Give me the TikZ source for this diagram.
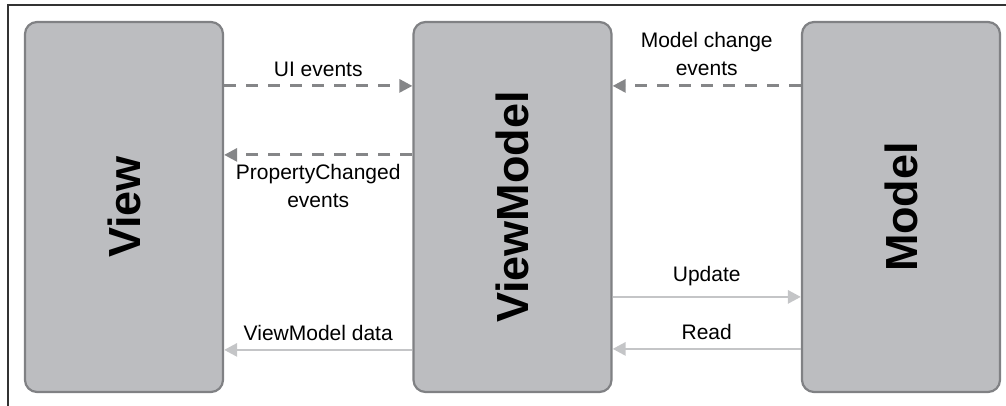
\documentclass[tikz,border=0pt]{standalone}
\usepackage{fontspec}
\setmainfont{Liberation Sans}
\usepackage{tikz}
\usetikzlibrary{arrows.meta,positioning}

\definecolor{boxfill}{HTML}{BCBDC0}
\definecolor{boxline}{HTML}{808184}
\definecolor{darkarrow}{HTML}{858688}
\definecolor{lightarrow}{HTML}{C4C5C7}

\begin{document}
\begin{tikzpicture}[
    x=1pt, y=-1pt,
    every node/.style={font=\fontsize{21}{28}\selectfont, align=center},
    layer/.style={rectangle, draw=boxline, line width=2.2pt, fill=boxfill, rounded corners=12pt, minimum width=198pt, minimum height=370pt, inner sep=0pt},
    layername/.style={rotate=90, font=\fontsize{45}{50}\selectfont\bfseries},
    eventflow/.style={draw=darkarrow, line width=2.8pt, dash pattern=on 12pt off 10pt, -{Triangle[length=13pt,width=13pt]}},
    dataflow/.style={draw=lightarrow, line width=2.8pt, -{Triangle[length=13pt,width=13pt]}},
    flowlabel/.style={midway, anchor=base, text=black},
    frame/.style={draw=black!80, line width=2pt}
]
\useasboundingbox (0,0) rectangle (1006,406);
\draw[frame] (1006,5) -- (7.5,5) -- (7.5,406);

% the three layers
\node [layer] (view) at (124,207) {};
\node [layer] (vm) at (512.5,207) {};
\node [layer] (model) at (901,207) {};
\node [layername] (viewname) at (view.center) {View};
\node [layername] (vmname) at (vm.center) {ViewModel};
\node [layername] (modelname) at (model.center) {Model};

% View <-> ViewModel
\draw [eventflow] ([yshift=-65pt]view.north east) -- ([yshift=-65pt]vm.north west)
    node [flowlabel, yshift=9pt] (uilabel) {UI events};
\draw [eventflow] ([yshift=-134pt]vm.north west) -- ([yshift=-134pt]view.north east)
    node [flowlabel, yshift=-53pt] (pclabel) {PropertyChanged\\events};
\draw [dataflow] ([yshift=-329pt]vm.north west) -- ([yshift=-329pt]view.north east)
    node [flowlabel, yshift=9pt] (datalabel) {ViewModel data};

% ViewModel <-> Model
\draw [eventflow] ([yshift=-65pt]model.north west) -- ([yshift=-65pt]vm.north east)
    node [flowlabel, yshift=10pt] (mclabel) {Model change\\events};
\draw [dataflow] ([yshift=-276pt]vm.north east) -- ([yshift=-276pt]model.north west)
    node [flowlabel, yshift=15pt] (updlabel) {Update};
\draw [dataflow] ([yshift=-328pt]model.north west) -- ([yshift=-328pt]vm.north east)
    node [flowlabel, yshift=9pt] (readlabel) {Read};
\end{tikzpicture}
\end{document}
